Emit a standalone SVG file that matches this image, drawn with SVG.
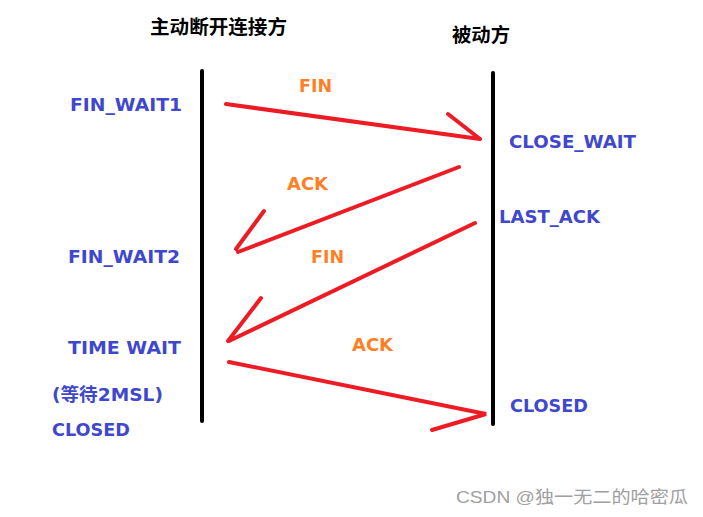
<svg xmlns="http://www.w3.org/2000/svg" width="703" height="517" viewBox="0 0 703 517">
<style>
.t{font-family:"DejaVu Sans","Noto Sans CJK SC",sans-serif;font-weight:bold;font-size:18px}
.h{font-family:"Noto Sans CJK SC",sans-serif;font-weight:bold;font-size:19px;fill:#000}
.b{fill:#3f48cc}
.o{fill:#ff7f27}
.r{stroke:#ed1c24;stroke-width:4;stroke-linecap:round;fill:none}
.v{stroke:#000;stroke-width:4;stroke-linecap:round}
</style>
<rect width="703" height="517" fill="#fff"/>
<g id="lifelines">
<line class="v" x1="202" y1="71" x2="202" y2="421"/>
<line class="v" x1="493" y1="73" x2="493" y2="424"/>
</g>
<g id="headers">
<text class="h" x="150" y="34" textLength="137" lengthAdjust="spacingAndGlyphs">主动断开连接方</text>
<text class="h" x="452" y="42" textLength="58" lengthAdjust="spacingAndGlyphs">被动方</text>
</g>
<g id="states">
<text class="t b" x="70" y="111" textLength="112" lengthAdjust="spacingAndGlyphs">FIN_WAIT1</text>
<text class="t b" x="509" y="148" textLength="127" lengthAdjust="spacingAndGlyphs">CLOSE_WAIT</text>
<text class="t b" x="499" y="223" textLength="101" lengthAdjust="spacingAndGlyphs">LAST_ACK</text>
<text class="t b" x="68" y="263" textLength="112" lengthAdjust="spacingAndGlyphs">FIN_WAIT2</text>
<text class="t b" x="68" y="354" textLength="113" lengthAdjust="spacingAndGlyphs">TIME WAIT</text>
<text class="t b" x="52" y="401" textLength="111" lengthAdjust="spacingAndGlyphs">(等待2MSL)</text>
<text class="t b" x="52" y="436" textLength="78" lengthAdjust="spacingAndGlyphs">CLOSED</text>
<text class="t b" x="510" y="412" textLength="78" lengthAdjust="spacingAndGlyphs">CLOSED</text>
</g>
<g id="connectors">
<path class="r" d="M226,104 L480,139 M448,114 L480,139"/>
<path class="r" d="M459,167 L238,252 M264,211 L236,249"/>
<path class="r" d="M475,223 L229,341 M261,298 L228,341"/>
<path class="r" d="M229,362 L486,414 L432,430"/>
</g>
<g id="labels">
<text class="t o" x="299" y="92" textLength="33" lengthAdjust="spacingAndGlyphs">FIN</text>
<text class="t o" x="287" y="190" textLength="41" lengthAdjust="spacingAndGlyphs">ACK</text>
<text class="t o" x="311" y="263" textLength="33" lengthAdjust="spacingAndGlyphs">FIN</text>
<text class="t o" x="352" y="351" textLength="41" lengthAdjust="spacingAndGlyphs">ACK</text>
</g>
<text x="456" y="503" font-family="'Liberation Sans','Noto Sans CJK SC',sans-serif" font-size="17" fill="#a0a0a0" textLength="232" lengthAdjust="spacingAndGlyphs">CSDN @独一无二的哈密瓜</text>
</svg>
